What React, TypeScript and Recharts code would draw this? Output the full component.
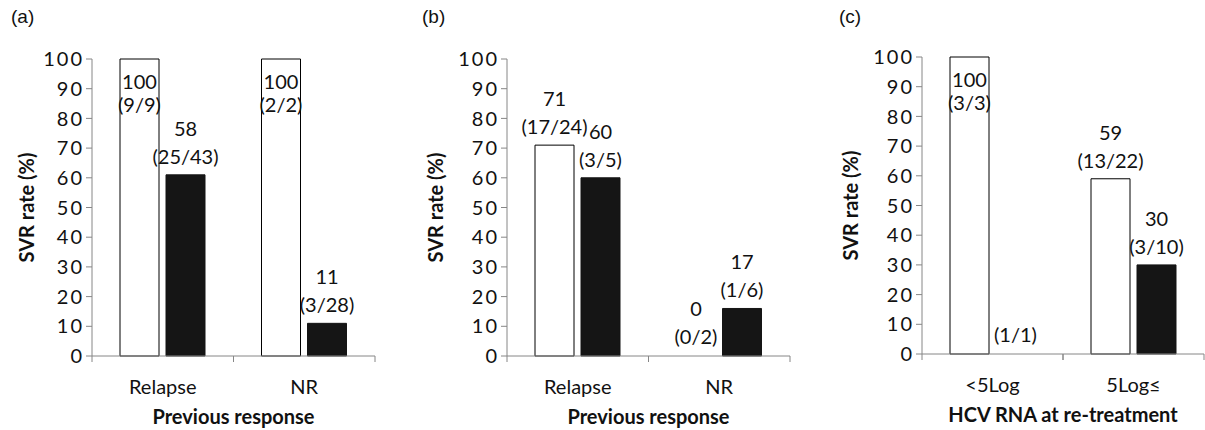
import { BarChart, Bar, XAxis, YAxis, LabelList, Rectangle } from 'recharts';

const yTicks = [0, 10, 20, 30, 40, 50, 60, 70, 80, 90, 100];

// (a) previous response
const catsA = ['Relapse', 'NR'];
const whiteA = [100, 100];
const blackA = [61, 11];
const whiteTopA = ['100', '100'];
const whiteSubA = ['(9/9)', '(2/2)'];
const blackTopA = ['58', '11'];
const blackSubA = ['(25/43)', '(3/28)'];

// (b) previous response
const catsB = ['Relapse', 'NR'];
const whiteB = [71, 0];
const blackB = [60, 16];
const whiteTopB = ['71', '0'];
const whiteSubB = ['(17/24)', '(0/2)'];
const blackTopB = ['60', '17'];
const blackSubB = ['(3/5)', '(1/6)'];

// (c) HCV RNA at re-treatment
const catsC = ['<5Log', '5Log≤'];
const whiteC = [100, 59];
const blackC = [0, 30];
const whiteTopC = ['100', '59'];
const whiteSubC = ['(3/3)', '(13/22)'];
const blackTopC = ['', '30'];
const blackSubC = ['(1/1)', '(3/10)'];

const FONT = 'Lato, "Open Sans", sans-serif';
const AXIS = '#868686';

const barLabel = (top: string[], sub: string[]) => (props: any) => {
  const { x, y, width, value, index } = props;
  const cx = Number(x) + Number(width) / 2;
  const inside = Number(value) >= 95;
  const y1 = inside ? Number(y) + 22 : Number(y) - 47;
  const y2 = inside ? Number(y) + 45 : Number(y) - 19;
  return (
    <g fontFamily={FONT} fontSize={20} fill="#111">
      <text x={cx} y={y1} textAnchor="middle" dominantBaseline="central">{top[index]}</text>
      <text x={cx} y={y2} textAnchor="middle" dominantBaseline="central">{sub[index]}</text>
    </g>
  );
};

// zero-valued bars keep a slot (so their labels show) but draw nothing
const barShape = (key: string) => (props: any) => {
  if (!props.payload || props.payload[key] === 0) return <g />;
  return <Rectangle {...props} />;
};

// category name plus Excel-style tick marks on the band edges
const CatTick = (props: any) => {
  const { x, y, payload } = props;
  const half = Number(payload.offset ?? 0);
  const ty = Number(y);
  return (
    <g>
      <line x1={x - half} x2={x - half} y1={ty} y2={ty + 6} stroke={AXIS} />
      <line x1={x + half} x2={x + half} y1={ty} y2={ty + 6} stroke={AXIS} />
      <text x={x} y={ty + 38} textAnchor="middle" fontFamily={FONT} fontSize={20} fill="#111">
        {payload.value}
      </text>
    </g>
  );
};

interface PanelProps {
  letter: string;
  letterLeft: number;
  left: number;
  width: number;
  margin: { top: number; right: number; bottom: number; left: number };
  labelOffset: number;
  cats: string[];
  white: number[];
  black: number[];
  whiteTop: string[];
  whiteSub: string[];
  blackTop: string[];
  blackSub: string[];
  title: string;
}

function Panel(p: PanelProps) {
  const rows = p.cats.map((c, i) => ({ cat: c, white: p.white[i], black: p.black[i] }));
  return (
    <div style={{ position: 'absolute', left: p.left, top: 0, width: p.width, height: 430 }}>
      <div
        style={{
          position: 'absolute',
          left: p.letterLeft,
          top: 6,
          fontFamily: '"Liberation Sans", Arial, sans-serif',
          fontSize: 19,
          lineHeight: '22px',
          color: '#111',
        }}
      >
        {p.letter}
      </div>
      <BarChart width={p.width} height={430} data={rows} margin={p.margin} barGap={7}>
        <XAxis
          dataKey="cat"
          interval={0}
          tickLine={false}
          tickSize={0}
          tickMargin={0}
          tick={<CatTick />}
          height={1}
          axisLine={{ stroke: AXIS }}
          label={{
            value: p.title,
            position: 'bottom',
            offset: 53,
            fontFamily: FONT,
            fontSize: 20,
            fontWeight: 700,
            fill: '#111',
          }}
        />
        <YAxis
          domain={[0, 100]}
          ticks={yTicks}
          interval={0}
          width={80}
          tickSize={6}
          tickMargin={2}
          axisLine={{ stroke: AXIS }}
          tickLine={{ stroke: AXIS }}
          tick={{ fill: '#111', fontSize: 20, fontFamily: FONT, letterSpacing: 2 }}
          label={{
            value: 'SVR rate (%)',
            angle: -90,
            position: 'insideLeft',
            offset: p.labelOffset,
            fontFamily: FONT,
            fontSize: 20,
            fontWeight: 700,
            fill: '#111',
            style: { textAnchor: 'middle' },
          }}
        />
        <Bar
          dataKey="white"
          fill="#fff"
          stroke="#000"
          strokeWidth={1}
          barSize={39}
          minPointSize={1}
          shape={barShape('white')}
          isAnimationActive={false}
        >
          <LabelList dataKey="white" content={barLabel(p.whiteTop, p.whiteSub)} />
        </Bar>
        <Bar
          dataKey="black"
          fill="#151515"
          stroke="#151515"
          strokeWidth={1}
          barSize={39}
          minPointSize={1}
          shape={barShape('black')}
          isAnimationActive={false}
        >
          <LabelList dataKey="black" content={barLabel(p.blackTop, p.blackSub)} />
        </Bar>
      </BarChart>
    </div>
  );
}

export default function App() {
  return (
    <div style={{ position: 'absolute', left: 0, top: 0, width: 1205, height: 430, background: '#fff' }}>
      <Panel
        letter="(a)"
        letterLeft={11}
        left={0}
        width={400}
        margin={{ top: 59, right: 25, bottom: 73, left: 12 }}
        labelOffset={15}
        cats={catsA}
        white={whiteA}
        black={blackA}
        whiteTop={whiteTopA}
        whiteSub={whiteSubA}
        blackTop={blackTopA}
        blackSub={blackSubA}
        title="Previous response"
      />
      <Panel
        letter="(b)"
        letterLeft={22}
        left={400}
        width={400}
        margin={{ top: 59, right: 10, bottom: 73, left: 27 }}
        labelOffset={9}
        cats={catsB}
        white={whiteB}
        black={blackB}
        whiteTop={whiteTopB}
        whiteSub={whiteSubB}
        blackTop={blackTopB}
        blackSub={blackSubB}
        title="Previous response"
      />
      <Panel
        letter="(c)"
        letterLeft={39}
        left={800}
        width={405}
        margin={{ top: 57, right: 1, bottom: 75, left: 42 }}
        labelOffset={9}
        cats={catsC}
        white={whiteC}
        black={blackC}
        whiteTop={whiteTopC}
        whiteSub={whiteSubC}
        blackTop={blackTopC}
        blackSub={blackSubC}
        title="HCV RNA at re-treatment"
      />
    </div>
  );
}
